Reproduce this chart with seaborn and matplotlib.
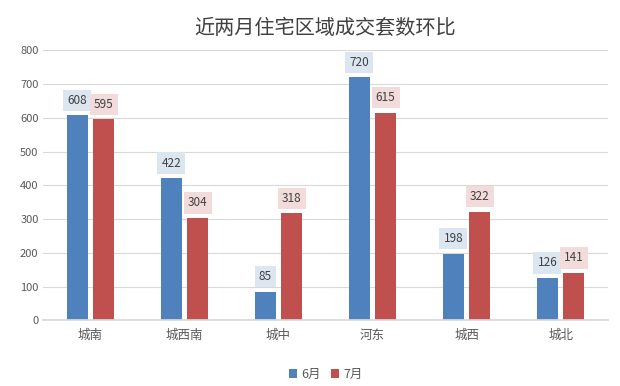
import pandas as pd
import matplotlib.pyplot as plt
import seaborn as sns

# data
districts = ["城南", "城西南", "城中", "河东", "城西", "城北"]
june = [608, 422, 85, 720, 198, 126]
july = [595, 304, 318, 615, 322, 141]

df = pd.DataFrame({"区域": districts * 2,
                   "月份": ["6月"] * 6 + ["7月"] * 6,
                   "套数": june + july})

sns.set_theme(style="white")
plt.rcParams['font.family'] = ['Noto Sans CJK SC', 'DejaVu Sans']

fig, ax = plt.subplots(figsize=(6.2, 3.86), dpi=100)
fig.subplots_adjust(left=0.07, right=0.98, top=0.87, bottom=0.17)

pal = ["#4f81bd", "#c0504d"]
sns.barplot(data=df, x="区域", y="套数", hue="月份", palette=pal,
            width=0.56, gap=0.21, saturation=1, linewidth=0, ax=ax)

boxes = ["#dce6f1", "#f2dcdb"]
for cont, bc in zip(ax.containers, boxes):
    ax.bar_label(cont, padding=6, fontsize=8.5, color="#404040",
                 bbox=dict(boxstyle="square,pad=0.35", fc=bc, ec="none"))

ax.set_ylim(0, 800)
ax.set_yticks(range(0, 801, 100))
ax.yaxis.grid(True, color="#d9d9d9", lw=0.8)
ax.set_axisbelow(True)
for s in ["top", "right", "left"]:
    ax.spines[s].set_visible(False)
ax.spines["bottom"].set_color("#d9d9d9")
ax.tick_params(axis="both", length=0, labelsize=8, colors="#595959")
ax.tick_params(axis="x", labelsize=9, pad=6)
ax.set_xlabel("")
ax.set_ylabel("")
ax.set_title("近两月住宅区域成交套数环比", fontsize=14.5, color="#404040", pad=12)

ax.legend(loc="upper center", bbox_to_anchor=(0.5, -0.135), ncol=2, frameon=False,
          fontsize=9, handlelength=0.7, handleheight=0.7, handletextpad=0.3,
          columnspacing=0.8, labelcolor="#595959")

fig.savefig("out.png", dpi=100)
